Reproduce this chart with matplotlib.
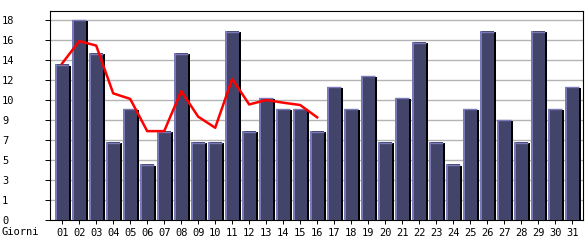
import matplotlib
matplotlib.use('Agg')
import matplotlib.pyplot as plt
import numpy as np

# days of the month and visits per day
days = ['%02d' % d for d in range(1, 32)]
visits = [14, 18, 15, 7, 10, 5, 8, 15, 7, 7, 17, 8, 11, 10, 10, 8,
          12, 10, 13, 7, 11, 16, 7, 5, 10, 17, 9, 7, 17, 10, 12]
# red trend line (only first 16 days)
trend = [14.1, 16.1, 15.7, 11.4, 10.9, 8.0, 8.0, 11.6, 9.3, 8.3, 12.7,
         10.4, 10.8, 10.56, 10.35, 9.24]
ytick_vals = [0, 1.8, 3.6, 5.4, 7.2, 9.0, 10.8, 12.6, 14.4, 16.2, 18.0]
ytick_labels = ['0', '1', '3', '5', '7', '9', '10', '12', '14', '16', '18']

plt.rcParams['font.family'] = 'DejaVu Sans Mono'
plt.rcParams['font.size'] = 7.5

fig = plt.figure(figsize=(5.85, 2.4), dpi=100)
ax = fig.add_axes([50 / 585, 20 / 240, 532.7 / 585, 209.3 / 240])

x = np.arange(1, 32)
vals = np.array(visits)
px = 1 / 17.0  # one pixel in data units along x
hw = 6.8 * px  # half width of bar body

# black shadow on the right
ax.bar(x + hw + 1.0 * px, vals - 0.1, width=2.0 * px, color='black', zorder=2)
# bar body
ax.bar(x, vals, width=2 * hw, color='#424469', zorder=3)
# light edge on the left and top
ax.bar(x - hw + 1 * px, vals, width=2 * px, color='#7a7ab8', zorder=4)
ax.hlines(vals - 0.04, x - hw, x + hw, color='#7a7ab8', linewidth=1.0, zorder=4)

ax.plot(x[:len(trend)], trend, color='#ff0000', linewidth=1.8, zorder=5)

ax.set_xlim(0.282, 31.62)
ax.set_ylim(0, 18.84)
ax.set_yticks(ytick_vals)
ax.set_yticklabels(ytick_labels, ha='left')
ax.set_xticks(x)
ax.set_xticklabels(days)
ax.yaxis.grid(True, color='#b4b4b4', linewidth=1.0, zorder=0)
ax.set_axisbelow(True)
ax.tick_params(axis='y', length=3.6, width=0.7, pad=31, colors='black')
ax.tick_params(axis='x', length=3, width=0.7, pad=3, colors='black')
for s in ax.spines.values():
    s.set_linewidth(0.8)
    s.set_color('black')

fig.text(2 / 585, 1 - 232 / 240, 'Giorni', ha='left', va='center')

fig.savefig('out.png', dpi=100)
